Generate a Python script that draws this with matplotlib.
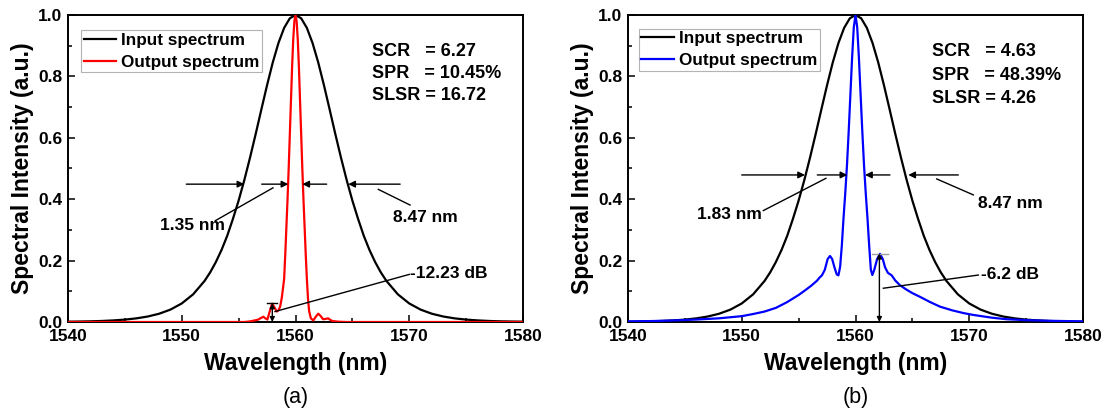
import matplotlib
matplotlib.use("Agg")
import matplotlib.pyplot as plt
from matplotlib.ticker import MultipleLocator

# ---------------- data ----------------
wl_in = [1540, 1541, 1542, 1543, 1544, 1545, 1546, 1547, 1548, 1549, 1550, 1551, 1552,
         1552.5, 1553, 1553.5, 1554, 1554.5, 1555, 1555.5, 1556, 1556.5, 1557, 1557.5,
         1558, 1558.5, 1559, 1559.5, 1560, 1560.5, 1561, 1561.5, 1562, 1562.5, 1563,
         1563.5, 1564, 1564.5, 1565, 1565.5, 1566, 1566.5, 1567, 1567.5, 1568, 1569,
         1570, 1571, 1572, 1573, 1574, 1575, 1576, 1577, 1578, 1579, 1580]
inp = [0.0010, 0.0015, 0.0022, 0.0034, 0.0052, 0.0078, 0.0118, 0.0178, 0.0268, 0.0403,
       0.0604, 0.0901, 0.1335, 0.1617, 0.1954, 0.2349, 0.2810, 0.3360, 0.3955, 0.4622,
       0.5351, 0.6124, 0.6925, 0.7714, 0.8451, 0.9086, 0.9579, 0.9892, 1.0000, 0.9892,
       0.9579, 0.9086, 0.8451, 0.7714, 0.6925, 0.6124, 0.5351, 0.4622, 0.3955, 0.3360,
       0.2810, 0.2349, 0.1954, 0.1617, 0.1335, 0.0901, 0.0604, 0.0403, 0.0268, 0.0178,
       0.0118, 0.0078, 0.0052, 0.0034, 0.0022, 0.0015, 0.0010]

wl_a = [1540, 1555.5, 1556.0, 1556.4, 1556.74, 1556.95, 1557.18, 1557.35, 1557.53, 1557.7,
        1557.94, 1558.15, 1558.35, 1558.5, 1558.65, 1558.8, 1558.9, 1559.0, 1559.1, 1559.2,
        1559.3, 1559.4, 1559.5, 1559.6, 1559.7, 1559.8, 1559.9, 1560.0, 1560.1, 1560.2,
        1560.3, 1560.4, 1560.5, 1560.6, 1560.7, 1560.8, 1560.9, 1561.0, 1561.1, 1561.2,
        1561.35, 1561.56, 1561.8, 1562.0, 1562.2, 1562.43, 1562.65, 1562.87, 1563.05,
        1563.26, 1563.8, 1564.5, 1580]
out_a = [0.0, 0.0, 0.002, 0.005, 0.008, 0.013, 0.017, 0.012, 0.008, 0.030,
         0.060, 0.048, 0.034, 0.038, 0.050, 0.080, 0.110, 0.140, 0.220, 0.310,
         0.400, 0.500, 0.610, 0.720, 0.830, 0.920, 0.980, 1.000, 0.980, 0.920,
         0.830, 0.720, 0.610, 0.500, 0.400, 0.310, 0.220, 0.140, 0.075, 0.035,
         0.012, 0.005, 0.018, 0.027, 0.020, 0.009, 0.010, 0.012, 0.007,
         0.003, 0.001, 0.0, 0.0]

wl_b = [1540, 1542, 1544, 1546, 1548, 1550, 1551, 1552, 1553, 1554, 1555, 1555.6,
        1556.1, 1556.6, 1556.85, 1557.05, 1557.3, 1557.55, 1557.76, 1557.95, 1558.15,
        1558.35, 1558.5, 1558.65, 1558.8, 1558.95, 1559.1, 1559.25, 1559.4, 1559.55,
        1559.7, 1559.85, 1560.0, 1560.15, 1560.3, 1560.45, 1560.6, 1560.75, 1560.9,
        1561.05, 1561.2, 1561.35, 1561.48, 1561.65, 1561.9, 1562.15, 1562.4, 1562.6,
        1562.85, 1563.18, 1563.5, 1563.9, 1564.5, 1565, 1565.67, 1566.5, 1567.43, 1568.5,
        1569.5, 1570.36, 1572, 1573.3, 1575, 1577, 1580]
out_b = [0.002, 0.003, 0.005, 0.008, 0.012, 0.019, 0.026, 0.034, 0.046, 0.065, 0.088, 0.104,
         0.118, 0.134, 0.145, 0.152, 0.170, 0.205, 0.215, 0.205, 0.178,
         0.155, 0.152, 0.180, 0.250, 0.340, 0.420, 0.510, 0.620, 0.740,
         0.860, 0.960, 1.000, 0.960, 0.860, 0.740, 0.620, 0.510, 0.420,
         0.340, 0.250, 0.170, 0.153, 0.170, 0.205, 0.222, 0.205, 0.178,
         0.160, 0.152, 0.135, 0.120, 0.105, 0.094, 0.082, 0.066, 0.050, 0.038,
         0.029, 0.023, 0.014, 0.009, 0.006, 0.004, 0.002]

x_ticks = [1540, 1550, 1560, 1570, 1580]
y_ticks = [0.0, 0.2, 0.4, 0.6, 0.8, 1.0]

panel_labels = ["(a)", "(b)"]
out_colors = ["#ff0000", "#0000ff"]
metrics = [["SCR   = 6.27", "SPR   = 10.45%", "SLSR = 16.72"],
           ["SCR   = 4.63", "SPR   = 48.39%", "SLSR = 4.26"]]
width_out = ["1.35 nm", "1.83 nm"]
width_in = ["8.47 nm", "8.47 nm"]
slsr_db = ["-12.23 dB", "-6.2 dB"]

# ---------------- style ----------------
plt.rcParams['font.family'] = ['Liberation Sans', 'DejaVu Sans']
plt.rcParams['font.weight'] = 'bold'

W, H = 1105, 416
fig = plt.figure(figsize=(W / 100, H / 100), dpi=100)

axes_px = [(68, 523), (628, 1083)]
top_px, bot_px = 15, 322

series = [(wl_a, out_a), (wl_b, out_b)]
legend_anchor = [(0.029, 0.951), (0.0235, 0.956)]

for i, (l, r) in enumerate(axes_px):
    ax = fig.add_axes([l / W, (H - bot_px) / H, (r - l) / W, (bot_px - top_px) / H])
    ax.plot(wl_in, inp, color='black', lw=1.6, label='Input spectrum', zorder=3)
    ax.plot(series[i][0], series[i][1], color=out_colors[i], lw=1.6,
            label='Output spectrum', zorder=4)
    ax.set_xlim(1540, 1580)
    ax.set_ylim(0, 1.0)
    ax.set_xticks(x_ticks)
    ax.set_yticks(y_ticks)
    ax.set_yticklabels([f"{v:.1f}" for v in y_ticks])
    ax.xaxis.set_minor_locator(MultipleLocator(5))
    ax.yaxis.set_minor_locator(MultipleLocator(0.1))
    ax.tick_params(which='both', direction='in', top=False, right=False, width=1.1)
    ax.tick_params(which='major', length=5, labelsize=12.5)
    ax.tick_params(axis='x', which='major', pad=5)
    ax.tick_params(axis='y', which='major', pad=4)
    ax.tick_params(which='minor', length=3)
    for lab in ax.get_xticklabels() + ax.get_yticklabels():
        lab.set_fontweight('bold')
    for sp in ax.spines.values():
        sp.set_linewidth(1.4)
    ax.set_xlabel('Wavelength (nm)', fontsize=16.5, fontweight='bold', labelpad=6)
    ax.set_ylabel('Spectral Intensity (a.u.)', fontsize=16.5, fontweight='bold', labelpad=3)

    leg = ax.legend(loc='upper left', bbox_to_anchor=legend_anchor[i],
                    borderaxespad=0, fancybox=False, edgecolor='#a0a0a0',
                    prop={'size': 12.3, 'weight': 'bold'}, handlelength=1.9,
                    handletextpad=0.3, borderpad=0.15, labelspacing=0.42)
    leg.get_frame().set_linewidth(0.8)

    fig.text(((l + r) / 2) / W, 19 / H, panel_labels[i], ha='center', va='center',
             fontsize=15.5, fontweight='normal')

    arr = dict(arrowstyle='-|>', color='black', lw=1.0, mutation_scale=10,
               shrinkA=0, shrinkB=0)
    if i == 0:
        ya = 0.449
        spans = [(1550.4, 1555.5), (1557.03, 1559.37), (1562.74, 1560.6), (1569.2, 1564.64)]
        leaders = [((1558.02, 0.437), (1552.95, 0.33)),
                   ((1567.28, 0.432), (1570.07, 0.381)),
                   ((1558.2, 0.034), (1570.0, 0.155))]
        t_out = (1550.95, 0.314)
        t_in = (1571.45, 0.341)
        t_db = (1570.1, 0.158)
        mx, mtop, hbar = 1557.96, 0.061, (1557.5, 1558.4)
        lx, ys = 1566.7, [0.881, 0.810, 0.739]
        bar_color = 'black'
    else:
        ya = 0.479
        spans = [(1550.0, 1555.56), (1556.64, 1559.28), (1563.03, 1560.84), (1569.04, 1564.64)]
        leaders = [((1557.4, 0.468), (1551.9, 0.363)),
                   ((1567.14, 0.466), (1570.36, 0.414)),
                   ((1562.45, 0.110), (1570.8, 0.153))]
        t_out = (1548.9, 0.351)
        t_in = (1573.6, 0.387)
        t_db = (1571.0, 0.155)
        mx, mtop, hbar = 1562.1, 0.223, (1561.42, 1562.88)
        lx, ys = 1566.7, [0.881, 0.803, 0.729]
        bar_color = '#a0a0a0'

    for x0, x1 in spans:
        ax.annotate('', xy=(x1, ya), xytext=(x0, ya), arrowprops=arr, zorder=5)
    for p0, p1 in leaders:
        ax.plot([p0[0], p1[0]], [p0[1], p1[1]], color='black', lw=1.0, zorder=5)
    ax.text(*t_out, width_out[i], ha='center', va='center', fontsize=12.5, fontweight='bold')
    ax.text(*t_in, width_in[i], ha='center', va='center', fontsize=12.5, fontweight='bold')
    ax.text(*t_db, slsr_db[i], ha='left', va='center', fontsize=12.5, fontweight='bold')
    ax.plot([hbar[0], hbar[1]], [mtop, mtop], color=bar_color, lw=1.0, zorder=5)
    ax.annotate('', xy=(mx, mtop), xytext=(mx, 0.0),
                arrowprops=dict(arrowstyle='<|-|>', color='black', lw=1.0,
                                mutation_scale=7, shrinkA=0, shrinkB=0), zorder=5)
    for txt, yy in zip(metrics[i], ys):
        ax.text(lx, yy, txt, ha='left', va='center', fontsize=13, fontweight='bold')

fig.savefig('out.png', dpi=100)
